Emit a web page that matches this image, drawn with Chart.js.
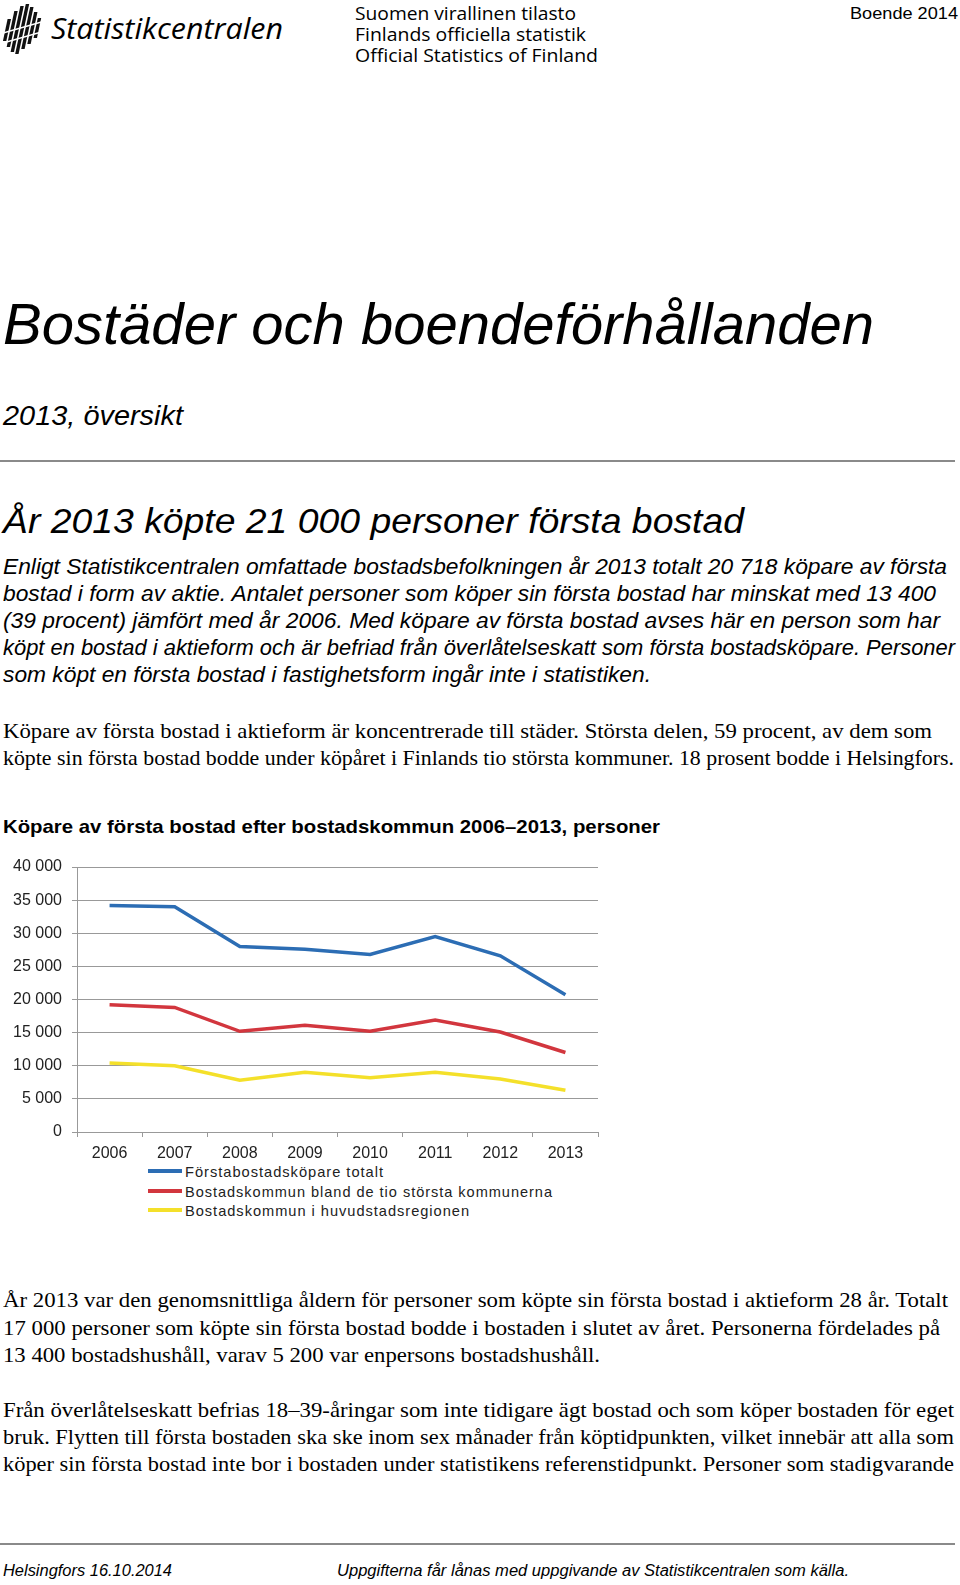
<!DOCTYPE html>
<html>
<head>
<meta charset="utf-8">
<script src="https://cdn.jsdelivr.net/npm/chart.js@4.4.1/dist/chart.umd.min.js"></script>
<style>
  html, body { margin: 0; padding: 0; background: #fff; }
  body { width: 960px; height: 1585px; position: relative; overflow: hidden; color: #000; }
  .ln { position: absolute; white-space: nowrap; transform-origin: 0 0; line-height: 1; }
  .sans { font-family: "Liberation Sans", Arial, sans-serif; }
  .serif { font-family: "Liberation Serif", "Times New Roman", serif; }
  .open { font-family: "Open Sans", sans-serif; }
  .it { font-style: italic; }
  .hr { position: absolute; left: 0; height: 2px; background: #8a8a8a; }
  #chartBox { position: absolute; left: 0; top: 845px; }
  .lg { position: absolute; height: 4px; }
</style>
</head>
<body>

<svg style="position:absolute;left:3px;top:3px" width="42" height="52" viewBox="0 0 42 52">
  <g fill="#111" transform="skewX(-12) translate(8,0)">
    <rect x="0" y="16" width="3.4" height="22"/>
    <rect x="5" y="8" width="3.4" height="36"/>
    <rect x="10" y="3" width="3.4" height="46"/>
    <rect x="15" y="1" width="3.4" height="50"/>
    <rect x="20" y="4" width="3.4" height="42"/>
    <rect x="25" y="9" width="3.4" height="32"/>
    <rect x="30" y="15" width="3.4" height="20"/>
  </g>
  <g stroke="#fff" stroke-width="1.6">
    <line x1="0" y1="30" x2="42" y2="18"/>
    <line x1="0" y1="40" x2="42" y2="28"/>
  </g>
</svg>

<div id="page"></div>

<div id="chartBox"><canvas id="c" width="610" height="317"></canvas></div>
<div id="legend"></div>

<script>
// data
const years = ['2006', '2007', '2008', '2009', '2010', '2011', '2012', '2013'];
const totalt = [34200, 34000, 28000, 27600, 26800, 29500, 26600, 20700];
const tioStorsta = [19200, 18800, 15200, 16100, 15200, 16900, 15100, 12000];
const huvudstad = [10400, 10000, 7800, 9000, 8200, 9000, 8000, 6300];
const seriesNames = [
  'Förstabostadsköpare totalt',
  'Bostadskommun bland de tio största kommunerna',
  'Bostadskommun i huvudstadsregionen'
];
const seriesColors = ['#2c6db4', '#d2363e', '#f4e02a'];
const yMax = 40000;
const yStep = 5000;

// text lines: [text, x, baseline, size, classes, target width]
const lines = [
  ['Statistikcentralen', 51, 38, 29, 'open it', 232],
  ['Suomen virallinen tilasto', 355, 19, 18, 'open', 221],
  ['Finlands officiella statistik', 355, 40, 18, 'open', 231],
  ['Official Statistics of Finland', 355, 61, 18, 'open', 243],
  ['Boende 2014', 850, 19, 17, 'sans', 108],
  ['Bostäder och boendeförhållanden', 3, 344, 57, 'sans it', 871],
  ['2013, översikt', 3, 426, 27, 'sans it', 180],
  ['År 2013 köpte 21 000 personer första bostad', 3, 533, 35, 'sans it', 741],
  ['Enligt Statistikcentralen omfattade bostadsbefolkningen år 2013 totalt 20 718 köpare av första', 3, 575, 22, 'sans it', 944],
  ['bostad i form av aktie. Antalet personer som köper sin första bostad har minskat med 13 400', 3, 602, 22, 'sans it', 933],
  ['(39 procent) jämfört med år 2006. Med köpare av första bostad avses här en person som har', 3, 629, 22, 'sans it', 937],
  ['köpt en bostad i aktieform och är befriad från överlåtelseskatt som första bostadsköpare. Personer', 3, 656, 22, 'sans it', 952],
  ['som köpt en första bostad i fastighetsform ingår inte i statistiken.', 3, 683, 22, 'sans it', 648],
  ['Köpare av första bostad i aktieform är koncentrerade till städer. Största delen, 59 procent, av dem som', 3, 739, 22, 'serif', 929],
  ['köpte sin första bostad bodde under köpåret i Finlands tio största kommuner. 18 prosent bodde i Helsingfors.', 3, 766, 22, 'serif', 951],
  ['Köpare av första bostad efter bostadskommun 2006–2013, personer', 3, 833, 19, 'sans b', 657],
  ['År 2013 var den genomsnittliga åldern för personer som köpte sin första bostad i aktieform 28 år. Totalt', 3, 1308, 22, 'serif', 945],
  ['17 000 personer som köpte sin första bostad bodde i bostaden i slutet av året. Personerna fördelades på', 3, 1336, 22, 'serif', 937],
  ['13 400 bostadshushåll, varav 5 200 var enpersons bostadshushåll.', 3, 1363, 22, 'serif', 597],
  ['Från överlåtelseskatt befrias 18–39-åringar som inte tidigare ägt bostad och som köper bostaden för eget', 3, 1418, 22, 'serif', 951],
  ['bruk. Flytten till första bostaden ska ske inom sex månader från köptidpunkten, vilket innebär att alla som', 3, 1445, 22, 'serif', 951],
  ['köper sin första bostad inte bor i bostaden under statistikens referenstidpunkt. Personer som stadigvarande', 3, 1472, 22, 'serif', 951],
  ['Helsingfors 16.10.2014', 3, 1577, 16, 'sans it', 169],
  ['Uppgifterna får lånas med uppgivande av Statistikcentralen som källa.', 337, 1577, 16, 'sans it', 512]
];

const page = document.getElementById('page');
lines.forEach(([t, x, base, size, cls, w]) => {
  const d = document.createElement('div');
  d.className = 'ln ' + cls.replace(' b', '');
  if (cls.indexOf(' b') >= 0) d.style.fontWeight = 'bold';
  d.textContent = t;
  d.style.fontSize = size + 'px';
  d.style.left = x + 'px';
  d.style.top = (base - 0.845 * size) + 'px';
  d.dataset.w = w;
  page.appendChild(d);
});

[[461, 955], [1544, 955]].forEach(([y, w]) => {
  const h = document.createElement('div');
  h.className = 'hr';
  h.style.top = (y - 1) + 'px';
  h.style.width = w + 'px';
  page.appendChild(h);
});

const chart = new Chart(document.getElementById('c'), {
  type: 'line',
  data: {
    labels: years,
    datasets: [
      { label: seriesNames[0], data: totalt },
      { label: seriesNames[1], data: tioStorsta },
      { label: seriesNames[2], data: huvudstad }
    ].map((ds, i) => Object.assign(ds, {
      borderColor: seriesColors[i],
      backgroundColor: seriesColors[i],
      borderWidth: 3.5,
      pointRadius: 0,
      tension: 0,
      fill: false
    }))
  },
  options: {
    responsive: false,
    animation: false,
    devicePixelRatio: 1,
    layout: { padding: { top: 22, right: 12, left: 0, bottom: 0 } },
    plugins: { legend: { display: false }, tooltip: { enabled: false } },
    scales: {
      x: {
        offset: true,
        grid: { offset: true, drawOnChartArea: false, drawTicks: true, tickLength: 5, color: '#999' },
        border: { color: '#999' },
        ticks: { color: '#222', padding: 7, font: { family: 'Liberation Sans', size: 16 }, maxRotation: 0 },
        afterFit: s => { s.height = 30; }
      },
      y: {
        min: 0,
        max: yMax,
        ticks: {
          stepSize: yStep,
          color: '#222',
          padding: 10,
          font: { family: 'Liberation Sans', size: 16 },
          callback: v => String(v).replace(/\B(?=(\d{3})+(?!\d))/g, ' ')
        },
        grid: { color: '#999', tickLength: 5 },
        border: { color: '#999' },
        afterFit: s => { s.width = 77; }
      }
    }
  }
});

// legend built from the chart datasets
const legend = document.getElementById('legend');
const legendBase = [1177, 1197, 1216];
const legendW = [199, 368, 285];
chart.data.datasets.forEach((ds, i) => {
  const sw = document.createElement('div');
  sw.className = 'lg';
  sw.style.left = '148px';
  sw.style.width = '34px';
  sw.style.top = (legendBase[i] - 8) + 'px';
  sw.style.background = ds.borderColor;
  legend.appendChild(sw);
  const t = document.createElement('div');
  t.className = 'ln sans';
  t.style.fontSize = '15px';
  t.style.letterSpacing = '1px';
  t.style.color = '#222';
  t.style.left = '185px';
  t.style.top = (legendBase[i] - 0.845 * 15) + 'px';
  t.textContent = ds.label;
  t.dataset.w = legendW[i];
  legend.appendChild(t);
});

// stretch or squeeze each text line to the width it has in the picture
document.querySelectorAll('.ln').forEach(el => {
  const w = +el.dataset.w;
  const nat = el.getBoundingClientRect().width;
  if (w && nat) el.style.transform = 'scaleX(' + (w / nat).toFixed(4) + ')';
});
</script>
</body>
</html>
